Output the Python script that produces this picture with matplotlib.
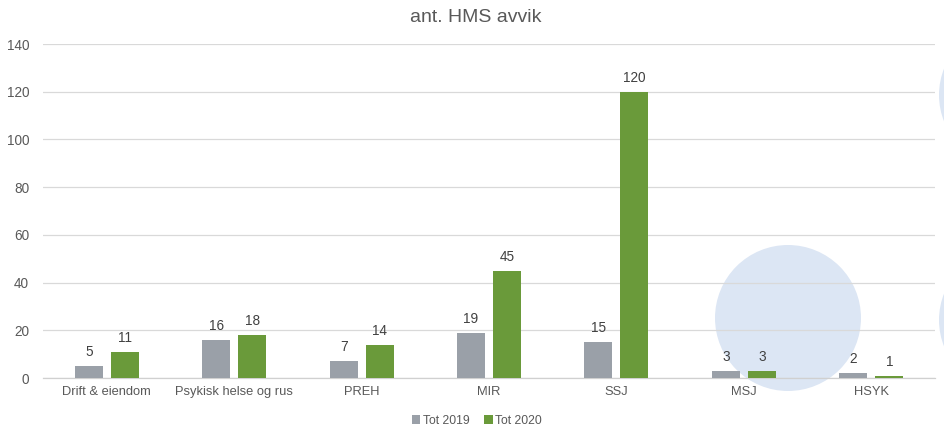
import matplotlib
matplotlib.use("Agg")
import matplotlib.pyplot as plt
from matplotlib.patches import Ellipse, Patch
import numpy as np

plt.rcParams['font.family'] = ['Liberation Sans', 'DejaVu Sans']

categories = ["Drift & eiendom", "Psykisk helse og rus", "PREH", "MIR", "SSJ", "MSJ", "HSYK"]
tot_2019 = [5, 16, 7, 19, 15, 3, 2]
tot_2020 = [11, 18, 14, 45, 120, 3, 1]
series_names = ["Tot 2019", "Tot 2020"]
yticks = [0, 20, 40, 60, 80, 100, 120, 140]

c19 = "#9aa0a8"
c20 = "#6a9a3a"
txt = "#595959"

W, H = 945, 430
fig = plt.figure(figsize=(W / 100, H / 100), dpi=100)
fig.patch.set_facecolor("white")

# decorative background circles (figure pixel coords)
circ_color = "#dce6f4"
for (cx, cy, r) in [(788, 318, 73), (1011, 95, 72), (1011, 320, 72)]:
    fig.patches.append(Ellipse((cx / W, 1 - cy / H), 2 * r / W, 2 * r / H,
                               transform=fig.transFigure,
                               facecolor=circ_color, edgecolor="none", zorder=0))

ax = fig.add_axes([43 / W, 1 - 378 / H, (935 - 43) / W, (378 - 44) / H])
ax.set_facecolor("none")
ax.set_zorder(1)

x = np.arange(len(categories))
off = 0.141
bw = 0.22
b1 = ax.bar(x - off, tot_2019, bw, color=c19, zorder=3, label=series_names[0])
b2 = ax.bar(x + off, tot_2020, bw, color=c20, zorder=3, label=series_names[1])

for bars, vals in [(b1, tot_2019), (b2, tot_2020)]:
    for rect, v in zip(bars, vals):
        ax.annotate(str(v), (rect.get_x() + rect.get_width() / 2, v),
                    xytext=(0, 5), textcoords="offset points",
                    ha="center", va="bottom", fontsize=9.8, color="#404040")

ax.set_xlim(-0.5, len(categories) - 0.5)
ax.set_ylim(0, 140)
ax.set_yticks(yticks)
ax.set_xticks(x)
ax.set_xticklabels(categories, fontsize=9.3)
ax.tick_params(axis="both", length=0, colors=txt)
ax.tick_params(axis="y", labelsize=9.8, pad=10)
ax.tick_params(axis="x", pad=6)
ax.yaxis.grid(True, color="#d9d9d9", linewidth=0.9, zorder=0)
for s in ["top", "right", "left"]:
    ax.spines[s].set_visible(False)
ax.spines["bottom"].set_color("#d0d0d0")
ax.spines["bottom"].set_linewidth(0.9)

fig.text(476 / W, 1 - 18 / H, "ant. HMS avvik", ha="center", va="center",
         fontsize=14, color=txt)

handles = [Patch(facecolor=c19), Patch(facecolor=c20)]
fig.legend(handles, series_names, loc="center", bbox_to_anchor=(477 / W, 1 - 421 / H),
           ncol=2, frameon=False, fontsize=8.8, handlelength=0.7, handleheight=0.7,
           handletextpad=0.2, columnspacing=1.2, labelcolor=txt)

fig.savefig("out.png", dpi=100, facecolor="white")
